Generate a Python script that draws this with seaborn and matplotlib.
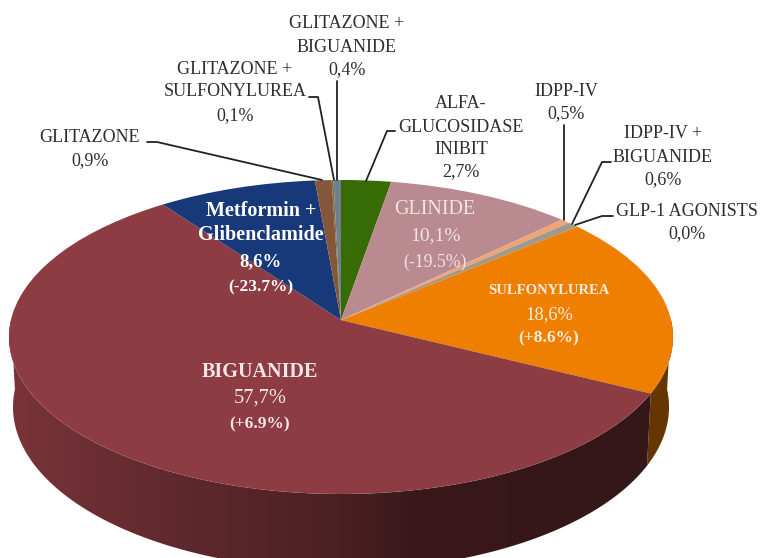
import numpy as np
import matplotlib
matplotlib.use("Agg")
import matplotlib.pyplot as plt
import matplotlib.transforms as mtransforms
from matplotlib.patches import Polygon
import seaborn as sb

classes = ["ALFA-GLUCOSIDASE INIBIT", "GLINIDE", "IDPP-IV", "IDPP-IV + BIGUANIDE", "GLP-1 AGONISTS",
           "SULFONYLUREA", "BIGUANIDE", "Metformin + Glibenclamide", "GLITAZONE",
           "GLITAZONE + SULFONYLUREA", "GLITAZONE + BIGUANIDE"]
shares = [2.7, 10.1, 0.5, 0.6, 0.0, 18.6, 57.7, 8.6, 0.9, 0.1, 0.4]
top_colors = ["#376b06", "#b98a8f", "#f0a374", "#a09a8e", "#8a8a8a",
              "#ee7f00", "#8c3c42", "#17397a", "#85573a", "#8a6a3a", "#6f8090"]

outer_text = [
    ["GLITAZONE +", "BIGUANIDE", "0,4%"],
    ["GLITAZONE +", "SULFONYLUREA", "0,1%"],
    ["GLITAZONE", "0,9%"],
    ["ALFA-", "GLUCOSIDASE", "INIBIT", "2,7%"],
    ["IDPP-IV", "0,5%"],
    ["IDPP-IV +", "BIGUANIDE", "0,6%"],
    ["GLP-1 AGONISTS", "0,0%"],
]
inner_text = [
    ["Metformin +", "Glibenclamide", "8,6%", "(-23.7%)"],
    ["GLINIDE", "10,1%", "(-19.5%)"],
    ["SULFONYLUREA", "18,6%", "(+8.6%)"],
    ["BIGUANIDE", "57,7%", "(+6.9%)"],
]

# layout, in pixels of the 760x558 picture
outer_x = [347, 235, 90, 461, 566, 663, 687]
outer_y = [[24, 47, 70], [69, 92, 116], [137, 161], [104, 127, 150, 172], [91, 114], [133, 157, 180], [212, 234]]
leaders = [
    [(147, 142), (157, 142), (322, 180)],
    [(309, 97), (318, 97), (334, 180)],
    [(337, 81), (337, 180)],
    [(395, 131), (387, 131), (366, 181)],
    [(564, 125), (564, 220)],
    [(611, 162), (602, 162), (572, 224)],
    [(613, 216), (602, 216), (575, 225)],
]
inner_x = [261, 435, 549, 260]
inner_y = [[211, 235, 262, 287], [209, 236, 262], [291, 315, 338], [372, 398, 424]]
inner_colors = ["white", "#f3e3e4", "#fdeedd", "#f6e6e7"]
inner_weights = [["bold", "bold", "bold", "bold"], ["normal", "normal", "normal"],
                 ["bold", "normal", "bold"], ["bold", "normal", "bold"]]
inner_sizes = [[14.5, 14.5, 13.5, 12.5], [14.5, 14, 12.7], [10.5, 13.3, 12.5], [14.5, 14.8, 12.5]]


class TiltedDisc(mtransforms.Transform):
    # unit circle -> ellipse in pixels, centre of the pie pushed back by tilt
    input_dims = 2
    output_dims = 2

    def __init__(self, cx, cy, rx, ry, tilt):
        super().__init__()
        self.cx, self.cy, self.rx, self.ry, self.tilt = cx, cy, rx, ry, tilt

    def transform_non_affine(self, values):
        x, y = np.asarray(values, dtype=float).T
        w = 1 + self.tilt * y
        return np.column_stack([self.cx + self.rx * x * np.sqrt(1 - self.tilt ** 2) / w,
                                self.cy - self.ry * (y + self.tilt) / w])


sb.set_theme(style="white")
plt.rcParams["font.family"] = ["Liberation Serif", "DejaVu Serif"]

fig = plt.figure(figsize=(7.6, 5.58), dpi=100)
ax = fig.add_axes([0, 0, 1, 1])
wedges, _ = ax.pie(shares, colors=sb.color_palette(top_colors), startangle=90, counterclock=False)
ax.set_aspect("auto")

top_disc = TiltedDisc(341, 337, 332, 157, 0.108)
bottom_disc = TiltedDisc(341, 407, 328, 163, 0.108)
for w in wedges:
    w.set_transform(top_disc + ax.transData)
    w.set_edgecolor("none")
    w.set_linewidth(0)
    w.set_zorder(3)

# side wall, only the front half shows, darker to the right
shade_x = [10, 100, 200, 342, 420, 660]
shade_mix = [0.87, 0.76, 0.66, 0.53, 0.40, 0.38]
px = np.arange(760)
for w, c in zip(wedges, top_colors):
    a1, a2 = max(w.theta1, -180), min(w.theta2, 0)
    if a2 <= a1:
        continue
    ang = np.radians(np.linspace(a1, a2, 200))
    unit = np.column_stack([np.cos(ang), np.sin(ang)])
    wall = Polygon(np.vstack([top_disc.transform(unit), bottom_disc.transform(unit)[::-1]]),
                   closed=True, transform=ax.transData, facecolor="none", edgecolor="none")
    ax.add_patch(wall)
    base = np.array(matplotlib.colors.to_rgb(c))
    mix = np.full(760, 0.43) if c == "#ee7f00" else np.interp(px, shade_x, shade_mix)
    band = ax.imshow((mix[:, None] * base)[None, :, :], extent=(0, 760, 558, 0), aspect="auto", zorder=1)
    band.set_clip_path(wall)

ax.set_xlim(0, 760)
ax.set_ylim(558, 0)
ax.axis("off")

for pts in leaders:
    xs, ys = zip(*pts)
    ax.plot(xs, ys, color="#222222", lw=1.3, zorder=4, solid_joinstyle="round")

for lines, x, ys in zip(outer_text, outer_x, outer_y):
    for t, y in zip(lines, ys):
        ax.text(x, y, t, ha="center", va="center", fontsize=13, color="#2e2e2e", zorder=5)
for lines, x, ys, col, weights, sizes in zip(inner_text, inner_x, inner_y, inner_colors, inner_weights, inner_sizes):
    for t, y, wt, fs in zip(lines, ys, weights, sizes):
        ax.text(x, y, t, ha="center", va="center", fontsize=fs, color=col, fontweight=wt, zorder=5)

fig.savefig("out.png", dpi=100)
